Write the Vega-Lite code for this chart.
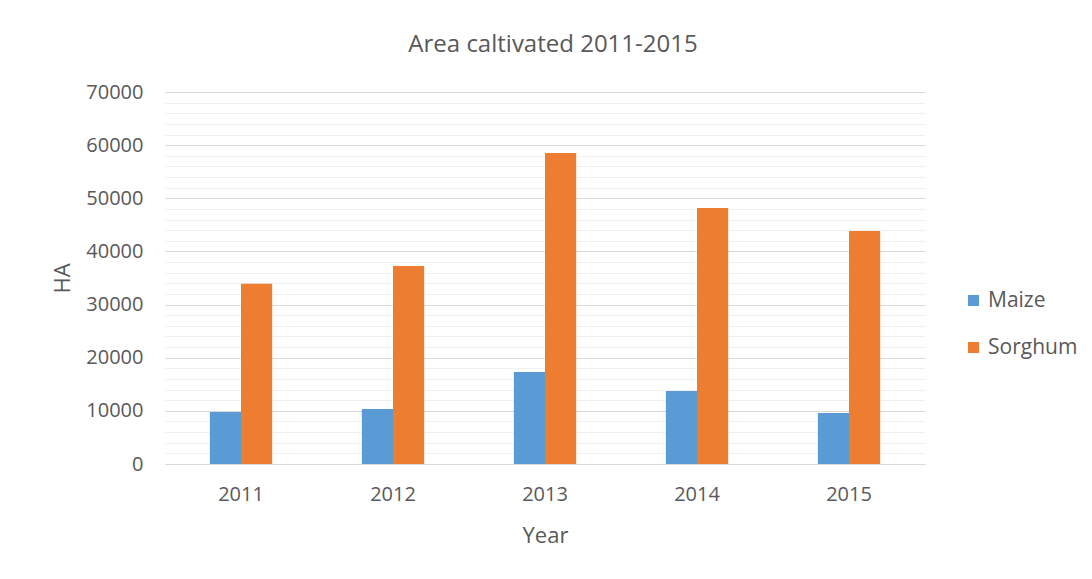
{
  "$schema": "https://vega.github.io/schema/vega-lite/v6.json",
  "autosize": {"type": "none"},
  "width": 760,
  "height": 372,
  "padding": {"left": 165, "top": 92, "right": 167, "bottom": 115},
  "background": "white",
  "title": {
    "text": "Area caltivated 2011-2015",
    "font": "Open Sans",
    "fontSize": 24,
    "fontWeight": "normal",
    "color": "#595959",
    "anchor": "middle",
    "offset": 25,
    "dx": 8
  },
  "data": {
    "values": [
      {"Year": "2011", "Crop": "Maize", "HA": 9800},
      {"Year": "2011", "Crop": "Sorghum", "HA": 33900},
      {"Year": "2012", "Crop": "Maize", "HA": 10350},
      {"Year": "2012", "Crop": "Sorghum", "HA": 37250},
      {"Year": "2013", "Crop": "Maize", "HA": 17300},
      {"Year": "2013", "Crop": "Sorghum", "HA": 58500},
      {"Year": "2014", "Crop": "Maize", "HA": 13750},
      {"Year": "2014", "Crop": "Sorghum", "HA": 48150},
      {"Year": "2015", "Crop": "Maize", "HA": 9600},
      {"Year": "2015", "Crop": "Sorghum", "HA": 43850}
    ]
  },
  "mark": {"type": "bar"},
  "encoding": {
    "x": {
      "field": "Year",
      "type": "nominal",
      "scale": {"paddingInner": 0.59, "paddingOuter": 0.295},
      "axis": {
        "title": "Year",
        "labelAngle": 0,
        "ticks": false,
        "domainColor": "#d9d9d9",
        "labelFont": "Open Sans",
        "labelFontSize": 20,
        "labelColor": "#595959",
        "labelPadding": 20,
        "titleFont": "Open Sans",
        "titleFontSize": 22,
        "titleFontWeight": "normal",
        "titleColor": "#595959",
        "titlePadding": 21
      }
    },
    "xOffset": {"field": "Crop", "type": "nominal", "scale": {"paddingInner": 0, "paddingOuter": 0}},
    "y": {
      "field": "HA",
      "type": "quantitative",
      "scale": {"domain": [0, 70000], "nice": false},
      "axis": {
        "title": "HA",
        "values": [0, 2000, 4000, 6000, 8000, 10000, 12000, 14000, 16000, 18000, 20000, 22000, 24000, 26000, 28000, 30000, 32000, 34000, 36000, 38000, 40000, 42000, 44000, 46000, 48000, 50000, 52000, 54000, 56000, 58000, 60000, 62000, 64000, 66000, 68000, 70000],
        "labelExpr": "datum.value % 10000 === 0 ? datum.value : ''",
        "format": "d",
        "ticks": false,
        "domain": false,
        "grid": true,
        "gridColor": {"condition": {"test": "datum.value % 10000 === 0", "value": "#d9d9d9"}, "value": "#f0f0f0"},
        "labelFont": "Open Sans",
        "labelFontSize": 20,
        "labelColor": "#595959",
        "labelPadding": 22,
        "titleFont": "Open Sans",
        "titleFontSize": 22,
        "titleFontWeight": "normal",
        "titleColor": "#595959",
        "titlePadding": 11
      }
    },
    "color": {
      "field": "Crop",
      "type": "nominal",
      "scale": {"domain": ["Maize", "Sorghum"], "range": ["#5b9bd5", "#ed7d31"]},
      "legend": {
        "title": null,
        "orient": "none",
        "legendX": 798,
        "legendY": 198,
        "symbolType": "square",
        "symbolSize": 121,
        "symbolStrokeWidth": 0,
        "labelFont": "Open Sans",
        "labelFontSize": 21,
        "labelColor": "#595959",
        "rowPadding": 25,
        "labelOffset": 4
      }
    }
  },
  "config": {"view": {"stroke": null}}
}
